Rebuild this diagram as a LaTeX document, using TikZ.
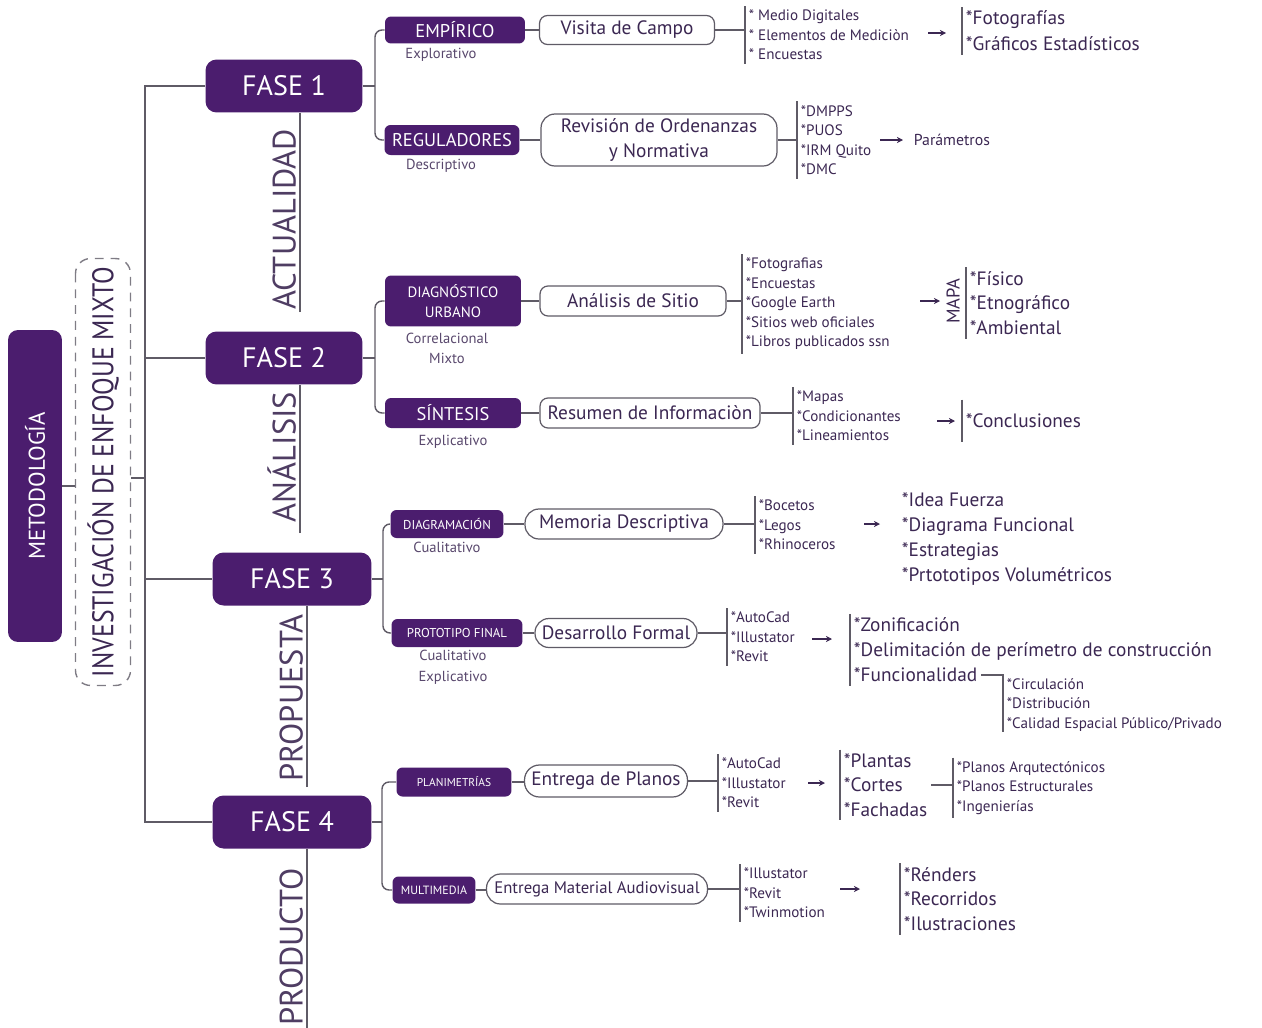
\documentclass[tikz,border=0pt]{standalone}
\usepackage{fontspec}
\usepackage{graphicx}
\setmainfont{PT Sans}
\usetikzlibrary{positioning}
\usetikzlibrary{arrows.meta}

\definecolor{morado}{HTML}{4B1D6E}
\definecolor{tinta}{HTML}{3B2752}
\definecolor{gris}{HTML}{5F5B66}

\tikzset{
    fase/.style={rectangle, rounded corners=0.22cm, fill=morado, text=white, inner sep=0pt, minimum width=3.14cm, minimum height=1.06cm, font=\fontsize{16}{16}\selectfont},
    tipo/.style={rectangle, rounded corners=0.12cm, fill=morado, text=white, inner sep=0pt, minimum height=0.56cm, align=center},
    metodo/.style={rectangle, rounded corners=0.16cm, draw=gris, line width=0.7pt, fill=white, inner sep=0pt, minimum height=0.6cm, align=center, text=tinta, font=\fontsize{11}{13.7}\selectfont},
    sub/.style={text=tinta!85, font=\fontsize{8.3}{11.4}\selectfont, align=center, inner sep=1pt},
    lista/.style={anchor=west, align=left, inner xsep=2pt, inner ysep=2pt, text=tinta, font=\fontsize{8.6}{11.1}\selectfont},
    listag/.style={lista, font=\fontsize{11}{14}\selectfont},
    etapa/.style={rotate=90, anchor=south west, inner xsep=1pt, inner ysep=2pt, text=tinta!90, font=\fontsize{18.5}{18.5}\selectfont},
    linea/.style={draw=gris, line width=0.8pt},
    flecha/.style={draw=tinta, line width=0.6pt, -{Stealth[length=3.5pt, width=3.5pt]}}
}

\begin{document}
\begin{tikzpicture}[x=0.02cm, y=-0.02cm]
    \useasboundingbox (0,0) rectangle (1262,1028);

    \node (meto) [rectangle, rotate=90, rounded corners=0.2cm, fill=morado, text=white, inner sep=0pt, minimum width=6.24cm, minimum height=1.08cm, font=\fontsize{13}{13}\selectfont] at (35,486) {METODOLOGÍA};
    \node (inv) [rectangle, rotate=90, rounded corners=0.3cm, draw=gris!80, line width=0.8pt, dash pattern=on 5pt off 4pt, inner sep=0pt, minimum width=8.54cm, minimum height=1.1cm, text=tinta, font=\fontsize{17}{17}\selectfont] at (103,472) {\scalebox{0.86}[1]{INVESTIGACIÓN DE ENFOQUE MIXTO}};
    \draw [linea] (meto.south) -- (meto.south -| inv.north);

    \node (fase1) [fase] at (284,86) {FASE 1};
    \node (fase2) [fase] at (284,358) {FASE 2};
    \node (fase3) [fase, minimum width=3.18cm] at (292,579) {FASE 3};
    \node (fase4) [fase, minimum width=3.18cm] at (292,822) {FASE 4};
    \coordinate (tronco) at (145,478);
    \draw [linea] (inv.south |- tronco) -- (tronco);
    \draw [linea] (fase1.west) -| (tronco) |- (fase4.west);
    \draw [linea] (fase2.west) -- (fase2.west -| tronco);
    \draw [linea] (fase3.west) -- (fase3.west -| tronco);

    \node (act) [etapa] at (300,312) {ACTUALIDAD};
    \node (anl) [etapa, inner xsep=6pt] at (300,533) {ANÁLISIS};
    \node (prop) [etapa, inner xsep=3pt] at (307,787) {PROPUESTA};
    \node (prod) [etapa] at (307,1028) {PRODUCTO};
    \draw [linea] (act.south west) -- (act.south west |- fase1.south);
    \draw [linea] (anl.south west) -- (anl.south west |- fase2.south);
    \draw [linea] (prop.south west) -- (prop.south west |- fase3.south);
    \draw [linea] (prod.south west) -- (prod.south west |- fase4.south);

    % fase 1
    \node (emp) [tipo, minimum width=2.8cm, minimum height=0.54cm, font=\fontsize{10.5}{10.5}\selectfont] at (455,30) {EMPÍRICO};
    \node (reg) [tipo, minimum width=2.7cm, minimum height=0.6cm, font=\fontsize{10.5}{10.5}\selectfont] at (452,140) {REGULADORES};
    \node (emp-sub) [sub, below=1.5pt of emp, xshift=-0.28cm] {Explorativo};
    \node (reg-sub) [sub, below=1pt of reg, xshift=-0.22cm] {Descriptivo};
    \coordinate (b1) at (375,86);
    \draw [linea] (fase1.east) -- (b1);
    \draw [linea, rounded corners=4pt] (emp.west) -| (b1) |- (reg.west);

    \node (visita) [metodo, minimum width=3.5cm, minimum height=0.58cm] at (627,30) {Visita de Campo};
    \node (revision) [metodo, minimum width=4.72cm, minimum height=1.04cm, rounded corners=0.28cm] at (659,140) {Revisión de Ordenanzas\\y Normativa};
    \draw [linea] (emp.east) -- (emp.east -| visita.west);
    \draw [linea] (reg.east) -- (reg.east -| revision.west);

    \node (herr1) [lista] at (745,35) {* Medio Digitales\\* Elementos de Mediciòn\\* Encuestas};
    \draw [linea] (visita.east) -- (visita.east -| herr1.west);
    \draw [linea] (herr1.north west) -- (herr1.south west);
    \node (res1) [listag, font=\fontsize{11}{14.8}\selectfont] at (962,31) {*Fotografías\\*Gráficos Estadísticos};
    \draw [linea] (res1.north west) -- (res1.south west);
    \draw [flecha] ([xshift=-0.68cm, yshift=-0.04cm]res1.west) -- ([xshift=-0.32cm, yshift=-0.04cm]res1.west);

    \node (herr2) [lista] at (797,140) {*DMPPS\\*PUOS\\*IRM Quito\\*DMC};
    \draw [linea] (revision.east) -- (revision.east -| herr2.west);
    \draw [linea] (herr2.north west) -- (herr2.south west);
    \node (res2) [lista, font=\fontsize{9}{9}\selectfont] at (910,140) {Parámetros};
    \draw [flecha] ([xshift=-0.6cm]res2.west) -- ([xshift=-0.14cm]res2.west);

    % fase 2
    \node (diag) [tipo, minimum width=2.72cm, minimum height=1.02cm, font=\fontsize{8.5}{11.4}\selectfont] at (453,301) {DIAGNÓSTICO\\URBANO};
    \node (sint) [tipo, minimum width=2.72cm, minimum height=0.6cm, font=\fontsize{10.5}{10.5}\selectfont] at (453,413) {SÍNTESIS};
    \node (diag-sub) [sub, below=2.5pt of diag, xshift=-0.12cm] {Correlacional\\Mixto};
    \node (sint-sub) [sub, below=2.5pt of sint] {Explicativo};
    \coordinate (b2) at (375,358);
    \draw [linea] (fase2.east) -- (b2);
    \draw [linea, rounded corners=4pt] (diag.west) -| (b2) |- (sint.west);

    \node (analisis) [metodo, minimum width=3.72cm] at (633,301) {Análisis de Sitio};
    \node (resumen) [metodo, minimum width=4.4cm] at (650,413) {Resumen de Informaciòn};
    \draw [linea] (diag.east) -- (diag.east -| analisis.west);
    \draw [linea] (sint.east) -- (sint.east -| resumen.west);

    \node (herr3) [lista] at (742,304) {*Fotografias\\*Encuestas\\*Google Earth\\*Sitios web oficiales\\*Libros publicados ssn};
    \draw [linea] (analisis.east) -- (analisis.east -| herr3.west);
    \draw [linea] (herr3.north west) -- (herr3.south west);
    \node (mapa) [rotate=90, inner sep=0pt, text=tinta, font=\fontsize{10.5}{10.5}\selectfont] at (953,301) {MAPA};
    \node (res3) [listag] at (966,303) {*Físico\\*Etnográfico\\*Ambiental};
    \draw [linea] (res3.north west) -- (res3.south west);
    \draw [flecha] ([xshift=-0.92cm, yshift=0.04cm]res3.west) -- ([xshift=-0.52cm, yshift=0.04cm]res3.west);

    \node (herr4) [lista] at (793,416) {*Mapas\\*Condicionantes\\*Lineamientos};
    \draw [linea] (resumen.east) -- (resumen.east -| herr4.west);
    \draw [linea] (herr4.north west) -- (herr4.south west);
    \node (res4) [listag, inner ysep=8pt] at (962,421) {*Conclusiones};
    \draw [linea] (res4.north west) -- (res4.south west);
    \draw [flecha] ([xshift=-0.5cm]res4.west) -- ([xshift=-0.14cm]res4.west);

    % fase 3
    \node (diagr) [tipo, minimum width=2.26cm, minimum height=0.56cm, font=\fontsize{7.3}{7.3}\selectfont] at (447,524) {DIAGRAMACIÓN};
    \node (prot) [tipo, minimum width=2.62cm, minimum height=0.56cm, font=\fontsize{7.3}{7.3}\selectfont] at (457,633) {PROTOTIPO FINAL};
    \node (diagr-sub) [sub, below=1pt of diagr] {Cualitativo};
    \node (prot-sub) [sub, below=0.5pt of prot, xshift=-0.08cm, font=\fontsize{8.3}{12}\selectfont] {Cualitativo\\Explicativo};
    \coordinate (b3) at (383,579);
    \draw [linea] (fase3.east) -- (b3);
    \draw [linea, rounded corners=4pt] (diagr.west) -| (b3) |- (prot.west);

    \node (memoria) [metodo, minimum width=3.96cm, rounded corners=0.28cm] at (624,524) {Memoria Descriptiva};
    \node (desarrollo) [metodo, minimum width=3.24cm, minimum height=0.58cm, rounded corners=0.28cm] at (616,633) {Desarrollo Formal};
    \draw [linea] (diagr.east) -- (diagr.east -| memoria.west);
    \draw [linea] (prot.east) -- (prot.east -| desarrollo.west);

    \node (herr5) [lista] at (755,525) {*Bocetos\\*Legos\\*Rhinoceros};
    \draw [linea] (memoria.east) -- (memoria.east -| herr5.west);
    \draw [linea] (herr5.north west) -- (herr5.south west);
    \node (res5) [listag, font=\fontsize{11}{14.1}\selectfont] at (898,539) {*Idea Fuerza\\*Diagrama Funcional\\*Estrategias\\*Prtototipos Volumétricos};
    \draw [flecha] ([xshift=-0.68cm, yshift=0.3cm]res5.west) -- ([xshift=-0.36cm, yshift=0.3cm]res5.west);

    \node (herr6) [lista] at (727,637) {*AutoCad\\*Illustator\\*Revit};
    \draw [linea] (desarrollo.east) -- (desarrollo.east -| herr6.west);
    \draw [linea] (herr6.north west) -- (herr6.south west);
    \node (zon) [listag] at (850,639) {*Zonificación\\*Delimitación de perímetro de construcción};
    \node (func) [listag] at (850,675) {*Funcionalidad};
    \draw [linea] (zon.north west) -- (func.south west);
    \draw [flecha] ([xshift=-0.76cm]zon.west) -- ([xshift=-0.36cm]zon.west);
    \node (circ) [lista, anchor=north west, inner ysep=0.5pt] at (1003,677) {*Circulación\\*Distribución\\*Calidad Espacial Público/Privado};
    \draw [linea] (func.east) -| (circ.south west);

    % fase 4
    \node (plan) [tipo, minimum width=2.3cm, minimum height=0.58cm, font=\fontsize{6.5}{6.5}\selectfont] at (454,782) {PLANIMETRÍAS};
    \node (mult) [tipo, minimum width=1.66cm, minimum height=0.54cm, font=\fontsize{6.8}{6.8}\selectfont] at (434,890) {MULTIMEDIA};
    \coordinate (b4) at (382,822);
    \draw [linea] (fase4.east) -- (b4);
    \draw [linea, rounded corners=4pt] (plan.west) -| (b4) |- (mult.west);

    \node (planos) [metodo, minimum width=3.26cm, minimum height=0.64cm, rounded corners=0.3cm] at (606,781) {Entrega de Planos};
    \node (audio) [metodo, minimum width=4.42cm, rounded corners=0.28cm, font=\fontsize{9.5}{9.5}\selectfont] at (597,889) {Entrega Material Audiovisual};
    \draw [linea] (plan.east) -- (plan.east -| planos.west);
    \draw [linea] (mult.east) -- (mult.east -| audio.west);

    \node (herr7) [lista] at (718,783) {*AutoCad\\*Illustator\\*Revit};
    \draw [linea] (planos.east) -- (planos.east -| herr7.west);
    \draw [linea] (herr7.north west) -- (herr7.south west);
    \node (pla) [listag] at (840,785) {*Plantas\\*Cortes\\*Fachadas};
    \draw [linea] (pla.north west) -- (pla.south west);
    \draw [flecha] ([xshift=-0.64cm, yshift=0.04cm]pla.west) -- ([xshift=-0.3cm, yshift=0.04cm]pla.west);
    \node (res7) [lista] at (953,788) {*Planos Arqutectónicos\\*Planos Estructurales\\*Ingenierías};
    \draw [linea] (pla.east) -- (pla.east -| res7.west);
    \draw [linea] (res7.north west) -- (res7.south west);

    \node (herr8) [lista] at (740,893) {*Illustator\\*Revit\\*Twinmotion};
    \draw [linea] (audio.east) -- (audio.east -| herr8.west);
    \draw [linea] (herr8.north west) -- (herr8.south west);
    \node (res8) [listag] at (900,899) {*Rénders\\*Recorridos\\*Ilustraciones};
    \draw [linea] (res8.north west) -- (res8.south west);
    \draw [flecha] ([xshift=-1.2cm, yshift=0.2cm]res8.west) -- ([xshift=-0.8cm, yshift=0.2cm]res8.west);
\end{tikzpicture}
\end{document}
